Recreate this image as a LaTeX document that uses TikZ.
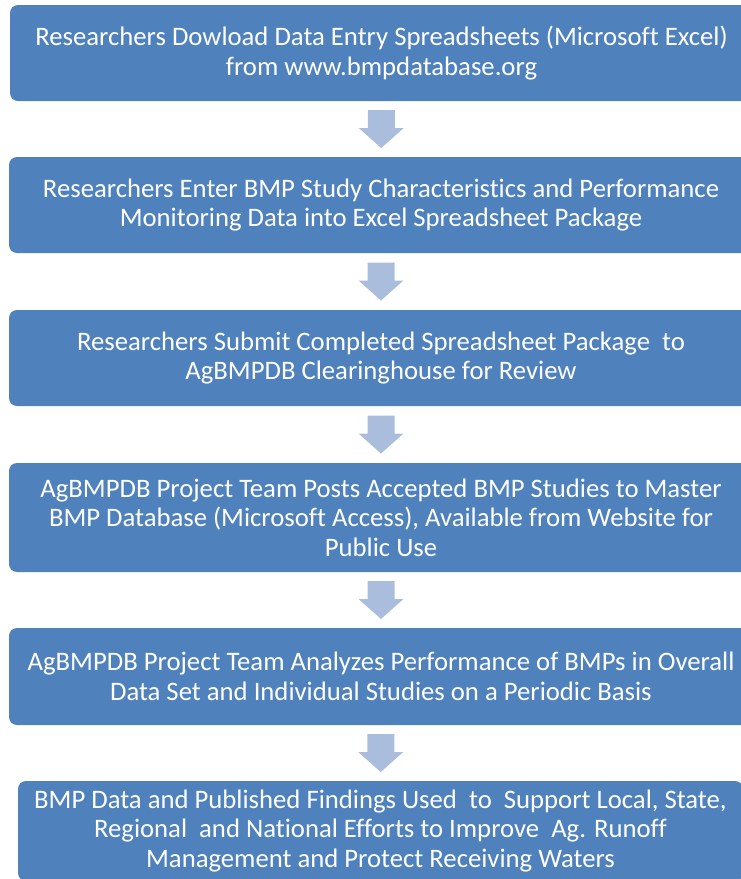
\documentclass[tikz,border=0pt]{standalone}
\usepackage{fontspec}
\setmainfont[Ligatures=NoCommon]{Carlito}
\usetikzlibrary{calc}
\definecolor{boxblue}{HTML}{4F81BD}
\definecolor{arrblue}{HTML}{AABDDD}
\newcommand\flowarrow[2]{\fill[arrblue] ($(#1.south)!0.5!(#2.north)$) ++(-13.5,-19) -- ++(27,0) -- ++(0,18) -- ++(9,0) -- ++(-22.5,20) -- ++(-22.5,-20) -- ++(9,0) -- cycle;}
\tikzset{
  stepbox/.style={fill=boxblue, rounded corners=8pt, text=white, align=center,
    font=\fontsize{26.7}{29.5}\selectfont, inner sep=0pt, minimum width=744pt}
}
\begin{document}
\begin{tikzpicture}[x=1pt,y=-1pt]
\useasboundingbox (0,0) rectangle (741,879);
\clip (0,0) rectangle (741,879);
\node[stepbox, minimum height=96pt, minimum width=743pt] (b1) at (381.5,53) {\raisebox{-2pt}{\parbox{700pt}{\centering Researchers Dowload Data Entry Spreadsheets (Microsoft Excel)\\from www.bmpdatabase.org}}};
\node[stepbox, minimum height=96pt] (b2) at (381,205) {Researchers Enter BMP Study Characteristics and Performance\\Monitoring Data into Excel Spreadsheet Package};
\node[stepbox, minimum height=96pt] (b3) at (381,358) {Researchers Submit Completed Spreadsheet Package~ to\\AgBMPDB Clearinghouse for Review};
\node[stepbox, minimum height=109pt] (b4) at (381,517.5) {AgBMPDB Project Team Posts Accepted BMP Studies to Master\\BMP Database (Microsoft Access), Available from Website for\\Public Use};
\node[stepbox, minimum height=97pt] (b5) at (381,676.5) {AgBMPDB Project Team Analyzes Performance of BMPs in Overall\\Data Set and Individual Studies on a Periodic Basis};
\node[stepbox, minimum height=100pt, minimum width=725pt] (b6) at (380.5,831) {BMP Data and Published Findings Used~ to~ Support Local, State,\\Regional~ and National Efforts to Improve~ Ag. Runoff\\Management and Protect Receiving Waters};
\flowarrow{b1}{b2}
\flowarrow{b2}{b3}
\flowarrow{b3}{b4}
\flowarrow{b4}{b5}
\flowarrow{b5}{b6}
\end{tikzpicture}
\end{document}
